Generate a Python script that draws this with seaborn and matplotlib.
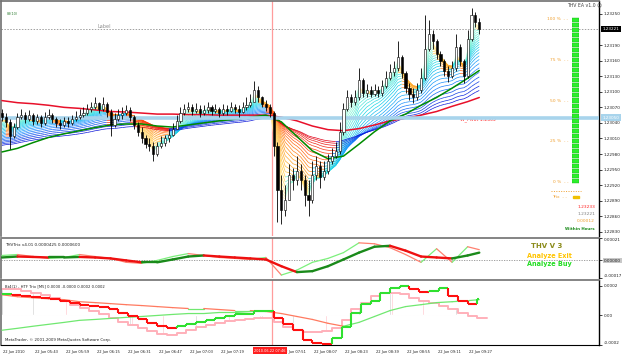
import numpy as np
import pandas as pd
import matplotlib
matplotlib.use("Agg")
import matplotlib.pyplot as plt
import matplotlib.transforms as mtransforms
from matplotlib.collections import LineCollection
from matplotlib.colors import LinearSegmentedColormap
from matplotlib.patches import Rectangle
import seaborn as sns

sns.set_style("white")
plt.rcParams['font.family'] = ['DejaVu Sans']

# ---------------- data ----------------
bar_minutes = list(range(0, 247, 2))          # minutes after 05:27 (2-minute candles)
first_open = 1.23059
closes = [1.23051, 1.23042, 1.23014, 1.23032, 1.23051, 1.23055, 1.23047, 1.23055, 1.23044, 1.23051,
          1.23040, 1.23051, 1.23055, 1.23047, 1.23040, 1.23036, 1.23044, 1.23040, 1.23047, 1.23051,
          1.23055, 1.23059, 1.23066, 1.23070, 1.23079, 1.23066, 1.23077, 1.23061, 1.23036, 1.23047,
          1.23055, 1.23059, 1.23064, 1.23051, 1.23036, 1.23023, 1.23010, 1.22999, 1.22995, 1.22980,
          1.22995, 1.23002, 1.23010, 1.23017, 1.23029, 1.23044, 1.23059, 1.23066, 1.23070, 1.23062,
          1.23066, 1.23059, 1.23064, 1.23070, 1.23062, 1.23066, 1.23059, 1.23066, 1.23062, 1.23070,
          1.23066, 1.23061, 1.23070, 1.23074, 1.23081, 1.23104, 1.23089, 1.23077, 1.23070, 1.23059,
          1.22995, 1.22911, 1.22873, 1.22892, 1.22939, 1.22929, 1.22948, 1.22929, 1.22901, 1.22892,
          1.22939, 1.22957, 1.22935, 1.22948, 1.22967, 1.22976, 1.22986, 1.23023, 1.23066, 1.23089,
          1.23081, 1.23089, 1.23122, 1.23098, 1.23104, 1.23096, 1.23104, 1.23098, 1.23111, 1.23126,
          1.23138, 1.23145, 1.23167, 1.23136, 1.23107, 1.23096, 1.23089, 1.23104, 1.23126, 1.23182,
          1.23211, 1.23197, 1.23173, 1.23160, 1.23141, 1.23130, 1.23145, 1.23186, 1.23160, 1.23130,
          1.23201, 1.23248, 1.23235, 1.23221]
highs = [1.23066, 1.23059, 1.23047, 1.23040, 1.23059, 1.23066, 1.23061, 1.23064, 1.23059, 1.23057,
         1.23055, 1.23061, 1.23066, 1.23059, 1.23051, 1.23047, 1.23051, 1.23051, 1.23055, 1.23062,
         1.23066, 1.23070, 1.23077, 1.23081, 1.23089, 1.23081, 1.23089, 1.23081, 1.23066, 1.23059,
         1.23066, 1.23070, 1.23074, 1.23070, 1.23055, 1.23042, 1.23032, 1.23017, 1.23010, 1.23004,
         1.23004, 1.23014, 1.23017, 1.23029, 1.23040, 1.23055, 1.23070, 1.23077, 1.23081, 1.23077,
         1.23079, 1.23074, 1.23074, 1.23081, 1.23074, 1.23077, 1.23070, 1.23077, 1.23074, 1.23081,
         1.23077, 1.23074, 1.23081, 1.23089, 1.23096, 1.23121, 1.23111, 1.23092, 1.23085, 1.23077,
         1.23062, 1.23004, 1.22939, 1.22920, 1.22961, 1.22954, 1.22976, 1.22961, 1.22939, 1.22929,
         1.22967, 1.22976, 1.22967, 1.22967, 1.22980, 1.22991, 1.23004, 1.23042, 1.23079, 1.23104,
         1.23096, 1.23104, 1.23145, 1.23126, 1.23115, 1.23111, 1.23115, 1.23111, 1.23122, 1.23141,
         1.23153, 1.23160, 1.23197, 1.23171, 1.23141, 1.23117, 1.23107, 1.23117, 1.23145, 1.23248,
         1.23239, 1.23220, 1.23201, 1.23179, 1.23164, 1.23149, 1.23160, 1.23211, 1.23192, 1.23164,
         1.23220, 1.23261, 1.23254, 1.23243]
lows = [1.23044, 1.23032, 1.22989, 1.23010, 1.23029, 1.23047, 1.23040, 1.23044, 1.23036, 1.23038,
        1.23032, 1.23036, 1.23047, 1.23040, 1.23032, 1.23029, 1.23032, 1.23032, 1.23036, 1.23044,
        1.23047, 1.23051, 1.23055, 1.23061, 1.23066, 1.23059, 1.23062, 1.23051, 1.23014, 1.23032,
        1.23044, 1.23047, 1.23055, 1.23044, 1.23029, 1.23014, 1.23002, 1.22991, 1.22986, 1.22967,
        1.22976, 1.22991, 1.22995, 1.23004, 1.23014, 1.23029, 1.23040, 1.23055, 1.23061, 1.23055,
        1.23059, 1.23051, 1.23055, 1.23059, 1.23055, 1.23059, 1.23051, 1.23055, 1.23055, 1.23061,
        1.23059, 1.23051, 1.23059, 1.23064, 1.23070, 1.23081, 1.23081, 1.23070, 1.23062, 1.23051,
        1.22976, 1.22849, 1.22845, 1.22860, 1.22892, 1.22911, 1.22920, 1.22911, 1.22879, 1.22860,
        1.22886, 1.22929, 1.22914, 1.22929, 1.22942, 1.22961, 1.22972, 1.22980, 1.23017, 1.23062,
        1.23070, 1.23074, 1.23085, 1.23089, 1.23089, 1.23089, 1.23092, 1.23089, 1.23092, 1.23107,
        1.23122, 1.23130, 1.23141, 1.23126, 1.23098, 1.23085, 1.23079, 1.23085, 1.23098, 1.23122,
        1.23179, 1.23182, 1.23164, 1.23149, 1.23130, 1.23119, 1.23126, 1.23141, 1.23149, 1.23117,
        1.23126, 1.23197, 1.23224, 1.23211]

ma_minutes = [0, 8, 16, 24, 32, 40, 48, 56, 64, 72, 80, 88, 96, 104, 112, 120,
              128, 136, 144, 152, 160, 168, 176, 184, 192, 200, 208, 216, 224, 232, 240, 246]
green_ma = [1.22984, 1.22991, 1.23002, 1.23012, 1.23019, 1.23025, 1.23031, 1.23036, 1.23038, 1.23038,
            1.23034, 1.23032, 1.23036, 1.23040, 1.23044, 1.23047, 1.23051, 1.23055, 1.23042, 1.23014,
            1.22986, 1.22971, 1.22976, 1.22999, 1.23023, 1.23044, 1.23057, 1.23074, 1.23089, 1.23107,
            1.23126, 1.23141]
red_ma = [1.23083, 1.23079, 1.23077, 1.23074, 1.23070, 1.23068, 1.23065, 1.23062, 1.23061, 1.23059,
          1.23057, 1.23057, 1.23056, 1.23056, 1.23055, 1.23055, 1.23055, 1.23055, 1.23051, 1.23044,
          1.23034, 1.23027, 1.23025, 1.23029, 1.23036, 1.23044, 1.23049, 1.23055, 1.23062, 1.23072,
          1.23081, 1.23089]
ribbon_seed = 1.22995
pivot_price = 1.2305
current_price = 1.23221
event_minute = 139
price_ticks = [1.23250, 1.23190, 1.23160, 1.23130, 1.23100, 1.23070, 1.23040, 1.23010,
               1.22980, 1.22950, 1.22920, 1.22890, 1.22860, 1.22830]

trix_signal = np.array([2.5, 3.4, 3.0, 2.5, 2.5, 3.0, 2.5, 1.6, -0.3, -2.1, -2.1, 0.6, 3.4, 4.4, 3.4, 2.5,
                        1.6, 0.6, -5.8, -11.4, -10.5, -5.8, 0.6, 7.1, 12.7, 13.6, 9.0, 3.4, 2.5, 1.6,
                        4.4, 7.1]) * 1e-5
trix_fast = np.array([4.4, 5.3, 3.4, 1.6, 2.5, 5.3, 3.4, 1.6, -2.1, -3.1, -0.3, 3.4, 6.2, 4.4, 2.5, 1.6,
                      0.6, 2.5, -14.2, -9.5, -2.1, 1.6, 7.1, 16.4, 15.5, 11.8, 5.3, -2.1, 10.8, -2.1,
                      12.7, 9.9]) * 1e-5

htf_block_starts = list(range(0, 250, 5))
htf_hist = np.array([18.0, 18.0, 16.7, 15.3, 14.0, 12.0, 10.0, 7.3, 5.3, 2.7,
                     0.7, -2.0, -4.7, -6.7, -8.7, -10.7, -12.7, -13.3, -12.0, -10.0,
                     -8.0, -6.7, -5.3, -4.0, -3.3, -2.7, -2.0, -2.0, -4.7, -8.0,
                     -10.0, -11.3, -11.3, -10.7, -8.7, -3.3, 4.7, 8.7, 13.3, 15.3,
                     15.3, 14.7, 12.0, 10.0, 8.7, 6.7, 4.7, 2.0, -0.7, -2.0]) * 1e-5
htf_trix = np.array([14.7, 14.0, 13.3, 12.7, 12.0, 11.3, 10.0, 8.7, 7.3, 6.7,
                     6.0, 4.7, 2.0, -0.7, -2.7, -5.3, -7.3, -8.7, -7.3, -6.0,
                     -4.7, -3.3, -2.0, -0.7, 0.7, 1.3, 2.7, 2.7, -2.0, -6.0,
                     -10.0, -16.7, -18.7, -19.3, -15.3, -8.0, 2.0, 8.0, 10.0, 15.3,
                     18.7, 20.0, 18.0, 16.0, 16.7, 18.7, 13.3, 10.0, 8.0, 11.3]) * 1e-5
htf_slow = np.array([14.0, 12.7, 12.0, 11.3, 10.7, 9.3, 8.7, 8.0, 7.3, 6.7, 6.0, 5.3, 4.7, 4.7, 4.0, 3.3,
                     3.3, 2.7, 1.3, -0.7, -2.7, -5.3, -7.3, -4.7, -0.7, 3.3, 6.0, 7.3, 8.7, 9.3,
                     10.0, 10.7]) * 1e-5
htf_slow2 = np.array([-10.0, -8.7, -7.3, -6.0, -4.7, -3.3, -2.7, -2.0, -1.3, -0.7, 0.0, 0.7, 1.3, 1.3,
                      2.0, 2.0, 2.7, 2.7] + [np.nan] * 14) * 1e-5

time_ticks = [0, 16, 32, 48, 64, 80, 96, 112, 128, 144, 160, 176, 192, 208, 224, 240]
time_labels = ["22 Jun 2010", "22 Jun 05:43", "22 Jun 05:59", "22 Jun 06:15", "22 Jun 06:31",
               "22 Jun 06:47", "22 Jun 07:03", "22 Jun 07:19", "", "22 Jun 07:51",
               "22 Jun 08:07", "22 Jun 08:23", "22 Jun 08:39", "22 Jun 08:55", "22 Jun 09:11",
               "22 Jun 09:27"]
gauge_levels = [0, 25, 50, 75, 100]
gauge_value = 100

# ---------------- figure ----------------
W, H = 625, 358
fig = plt.figure(figsize=(6.25, 3.58), dpi=100, facecolor='white')


def px_axes(x0, y0, x1, y1):
    return fig.add_axes([x0 / W, 1 - y1 / H, (x1 - x0) / W, (y1 - y0) / H])


ax1 = px_axes(1, 1, 599, 236)
ax2 = px_axes(1, 238, 599, 278)
ax3 = px_axes(1, 280, 599, 345)
XLIM = (-0.5, 307.7)
FS = 3.0
TXT = '#202020'


def style(ax):
    for s in ['top', 'left']:
        ax.spines[s].set_color('#707070')
        ax.spines[s].set_linestyle((0, (1, 1)))
        ax.spines[s].set_linewidth(1.2)
    ax.spines['bottom'].set_visible(False)
    ax.spines['right'].set_color('black')
    ax.spines['right'].set_linewidth(1.0)
    ax.set_xlim(*XLIM)
    ax.set_xlabel('')
    ax.set_ylabel('')
    ax.yaxis.tick_right()
    ax.tick_params(axis='y', labelsize=FS, length=2, pad=1.5, colors=TXT, width=0.6)


def slope_lines(ax, x, y, up_col, dn_col, lw, z):
    x = np.asarray(x, float)
    y = np.asarray(y, float)
    segs, cols = [], []
    for j in range(len(x) - 1):
        if np.isnan(y[j]) or np.isnan(y[j + 1]):
            continue
        segs.append([(x[j], y[j]), (x[j + 1], y[j + 1])])
        cols.append(up_col if y[j + 1] >= y[j] else dn_col)
    ax.add_collection(LineCollection(segs, colors=cols, linewidths=lw, zorder=z, capstyle='round'))


# ---------------- main panel ----------------
t = np.array(bar_minutes, float)
c = np.array(closes)
hi = np.array(highs)
lo = np.array(lows)
o = np.concatenate([[first_open], c[:-1]])

# ribbon of exponential averages of the close
n_rib = 24
spans = np.geomspace(2, 65, n_rib)
up_cmap = LinearSegmentedColormap.from_list('up', ['#c8ffe4', '#70f0d4', '#18d4e8', '#1a8cff', '#0a14d8'])
dn_cmap = LinearSegmentedColormap.from_list('dn', ['#fff0b0', '#ffd050', '#ff9a20', '#ff4a10', '#e00018'])
segs, cols = [], []
for k, s in enumerate(spans):
    a = 2.0 / (s + 1.0)
    frac = k / (n_rib - 1)
    e = c[0] + (ribbon_seed - c[0]) * frac
    vals = []
    for v in c:
        e += a * (v - e)
        vals.append(e)
    for j in range(len(vals) - 1):
        segs.append([(t[j], vals[j]), (t[j + 1], vals[j + 1])])
        cols.append(up_cmap(frac) if vals[j + 1] >= vals[j] else dn_cmap(frac))
ax1.add_collection(LineCollection(segs, colors=cols, linewidths=0.5, zorder=2))

ax1.axhline(current_price, color='#a0a0a0', lw=0.7, ls=(0, (1.5, 1.5)), zorder=1)
ax1.axhline(pivot_price, color='#a8d4ec', lw=2.6, zorder=3.5)

ma_df = pd.DataFrame({'minute': ma_minutes, 'green': green_ma, 'red': red_ma})
sns.lineplot(data=ma_df, x='minute', y='red', ax=ax1, color='#e8102a', lw=1.1, zorder=3)
sns.lineplot(data=ma_df, x='minute', y='green', ax=ax1, color='#008c00', lw=1.1, zorder=3)

up = c >= o
body_bot = np.minimum(o, c)
body_h = np.maximum(np.abs(c - o), 0.00001)
ax1.vlines(t, lo, hi, color='black', lw=0.6, zorder=4)
ax1.bar(t[up], body_h[up], bottom=body_bot[up], width=1.1, color='white', edgecolor='black', lw=0.4, zorder=5)
ax1.bar(t[~up], body_h[~up], bottom=body_bot[~up], width=1.1, color='black', edgecolor='black', lw=0.4, zorder=5)

ax1.set_ylim(1.22822, 1.23275)
style(ax1)
ax1.set_yticks(price_ticks)
ax1.set_yticklabels([f"{p:.5f}" for p in price_ticks])
ax1.set_xticks([])

trans1 = mtransforms.blended_transform_factory(ax1.transAxes, ax1.transData)
ax1.text(1.006, current_price, f"{current_price:.5f}", transform=trans1, fontsize=FS, color='white',
         va='center', ha='left', bbox=dict(boxstyle='square,pad=0.3', fc='black', ec='none'),
         clip_on=False, zorder=20)
ax1.text(1.006, pivot_price, f"{pivot_price:.5f}", transform=trans1, fontsize=FS, color='white',
         va='center', ha='left', bbox=dict(boxstyle='square,pad=0.3', fc='#a8d4ec', ec='none'),
         clip_on=False, zorder=20)
ax1.text(49, current_price, "Label", fontsize=3.6, color='#909090', va='bottom', ha='left')
ax1.text(236, pivot_price - 0.00003, "W_Pivot 1.2305", fontsize=3.3, color='#ff3030', va='center', ha='left')
ax1.text(0.01, 0.945, "88(10)", transform=ax1.transAxes, fontsize=2.4, color='#2e7d32', va='center')

# ---------------- THVTrix panel ----------------
ax2.axhline(0, color='#909090', lw=0.6, ls=(0, (1.5, 1.5)), zorder=1)
slope_lines(ax2, ma_minutes, trix_fast, '#7cf07c', '#ff8070', 0.9, 3)
slope_lines(ax2, ma_minutes, trix_signal, '#1a8a1a', '#ee1010', 1.7, 4)
ax2.set_ylim(-0.00017, 0.00021)
style(ax2)
ax2.set_xticks([])
ax2.set_yticks([0.00021, 0.0, -0.00017])
labs2 = ax2.set_yticklabels(["0.00021", "0.00000", "-0.00017"])
labs2[0].set_va('top')
labs2[2].set_va('bottom')
labs2[1].set_bbox(dict(boxstyle='square,pad=0.2', fc='#c8c8c8', ec='none'))
ax2.text(0.006, 0.83, "THVTrix v4.01 0.0000425 0.0000600", transform=ax2.transAxes,
         fontsize=3.0, color=TXT, va='center')
ax2.text(0.886, 0.8, "THV V 3", transform=ax2.transAxes, fontsize=5.0, weight='bold', color='#8b8b1a', va='center')
ax2.text(0.879, 0.56, "Analyze Exit", transform=ax2.transAxes, fontsize=4.7, weight='bold', color='#ffc400', va='center')
ax2.text(0.879, 0.34, "Analyze Buy", transform=ax2.transAxes, fontsize=4.7, weight='bold', color='#22dd22', va='center')

# ---------------- HTF Trix panel ----------------
hist_min = np.arange(0, 247)
hist_val = np.array([htf_hist[m // 5] for m in hist_min])
ax3.bar(hist_min[::2], hist_val[::2], width=0.55, color='#b8b8b8', zorder=1)
ax3.bar(hist_min[1::2], hist_val[1::2], width=0.55, color='#ffc4cc', zorder=1)
edges = np.array(htf_block_starts + [250], float)
ax3.step(edges, np.append(htf_hist, htf_hist[-1]), where='post', color='#ffb0ba', lw=1.4, zorder=2)

hsegs, hcols = [], []
starts = np.array(htf_block_starts, float)
for b in range(len(htf_trix)):
    x0 = starts[b]
    x1 = min(starts[b] + 5, 246)
    col = '#30e030' if (b == 0 or htf_trix[b] >= htf_trix[b - 1]) else '#ff1010'
    if b > 0:
        hsegs.append([(x0, htf_trix[b - 1]), (x0, htf_trix[b])])
        hcols.append(col)
    hsegs.append([(x0, htf_trix[b]), (x1, htf_trix[b])])
    hcols.append(col)
ax3.add_collection(LineCollection(hsegs, colors=hcols, linewidths=1.5, zorder=4))
slope_lines(ax3, ma_minutes, htf_slow, '#70e870', '#ff7a60', 0.9, 3)
sns.lineplot(x=ma_minutes, y=htf_slow2, ax=ax3, color='#70e870', lw=0.9, zorder=3)

ax3.set_ylim(-0.0002, 0.00024)
style(ax3)
ax3.spines['bottom'].set_visible(True)
ax3.spines['bottom'].set_color('black')
ax3.spines['bottom'].set_linewidth(0.8)
ax3.set_yticks([0.0002, 0.0, -0.0002])
labs3 = ax3.set_yticklabels(["0.0002", "0.00", "-0.0002"])
labs3[2].set_va('bottom')
ax3.set_xticks(time_ticks)
ax3.set_xticklabels(time_labels, ha='left')
ax3.tick_params(axis='x', labelsize=2.6, length=2.5, pad=1.2, colors=TXT, width=0.6)
shift = mtransforms.ScaledTranslation(1.5 / 100, 0, fig.dpi_scale_trans)
for lab in ax3.get_xticklabels():
    lab.set_transform(lab.get_transform() + shift)
ax3.text(0.006, 0.9, "Bt4(1) - HTF Trix [M5] 0.0000 -0.0000 0.0002 0.0002", transform=ax3.transAxes,
         fontsize=2.7, color=TXT, va='center')
ax3.text(0.006, 0.07, "MetaTrader, \u00a9 2001-2009 MetaQuotes Software Corp.", transform=ax3.transAxes,
         fontsize=2.8, color=TXT, va='center')
trans3 = mtransforms.blended_transform_factory(ax3.transData, ax3.transAxes)
ax3.text(event_minute - 1.0, -0.09, "2010.06.22 07:46", transform=trans3, fontsize=2.5, color='white',
         ha='center', va='center', bbox=dict(boxstyle='square,pad=0.4', fc='#ff2020', ec='none'),
         clip_on=False, zorder=30)

for ax in (ax1, ax2, ax3):
    ax.axvline(event_minute, color='#ff9c9c', lw=0.9, zorder=1.5)

# ---------------- gauge (right side of main panel) ----------------
axg = px_axes(572, 17, 579, 184)
axg.set_xlim(-0.5, 0.5)
axg.set_ylim(-1.2, 101.2)
axg.axis('off')
n_seg = 33
seg_edges = np.linspace(-1.2, 101.2, n_seg + 1)
seg_h = np.diff(seg_edges)
filled = seg_edges[:-1] <= gauge_value
axg.bar(np.zeros(filled.sum()), seg_h[filled] * 0.8, bottom=seg_edges[:-1][filled] + seg_h[filled] * 0.1,
        width=1.0, color='#2cee2c', edgecolor='#18b818', lw=0.3)
for lvl in gauge_levels:
    axg.text(-1.0, lvl, f"{lvl} %  - -", ha='right', va='center', fontsize=3.2, color='#f0a030', clip_on=False)

# ---------------- overlay text layer ----------------
ov = fig.add_axes([0, 0, 1, 1])
ov.set_xlim(0, W)
ov.set_ylim(H, 0)
ov.axis('off')
ov.patch.set_alpha(0)
ov.set_zorder(10)
ov.text(567, 5, "THV EA v1.0 \u263a", fontsize=3.3, color='#404040', va='center', ha='left')
ov.plot([551, 581], [191, 191], ls=(0, (1, 1.5)), color='#f0a030', lw=0.7)
ov.text(552, 197, "Trix  - -", fontsize=3.2, color='#f0a030', va='center', ha='left')
ov.add_patch(Rectangle((573, 195.8), 6, 2.4, color='#f0c000'))
ov.text(595, 207, "1.23233", fontsize=3.2, color='#ff2020', va='center', ha='right')
ov.text(595, 214, "1.23221", fontsize=3.2, color='#808080', va='center', ha='right')
ov.text(595, 221, "0.00012", fontsize=3.2, color='#f0a030', va='center', ha='right')
ov.text(595, 229, "Within Hours", fontsize=2.9, weight='bold', color='#1a8a1a', va='center', ha='right')

fig.savefig("out.png", dpi=100, facecolor='white')
